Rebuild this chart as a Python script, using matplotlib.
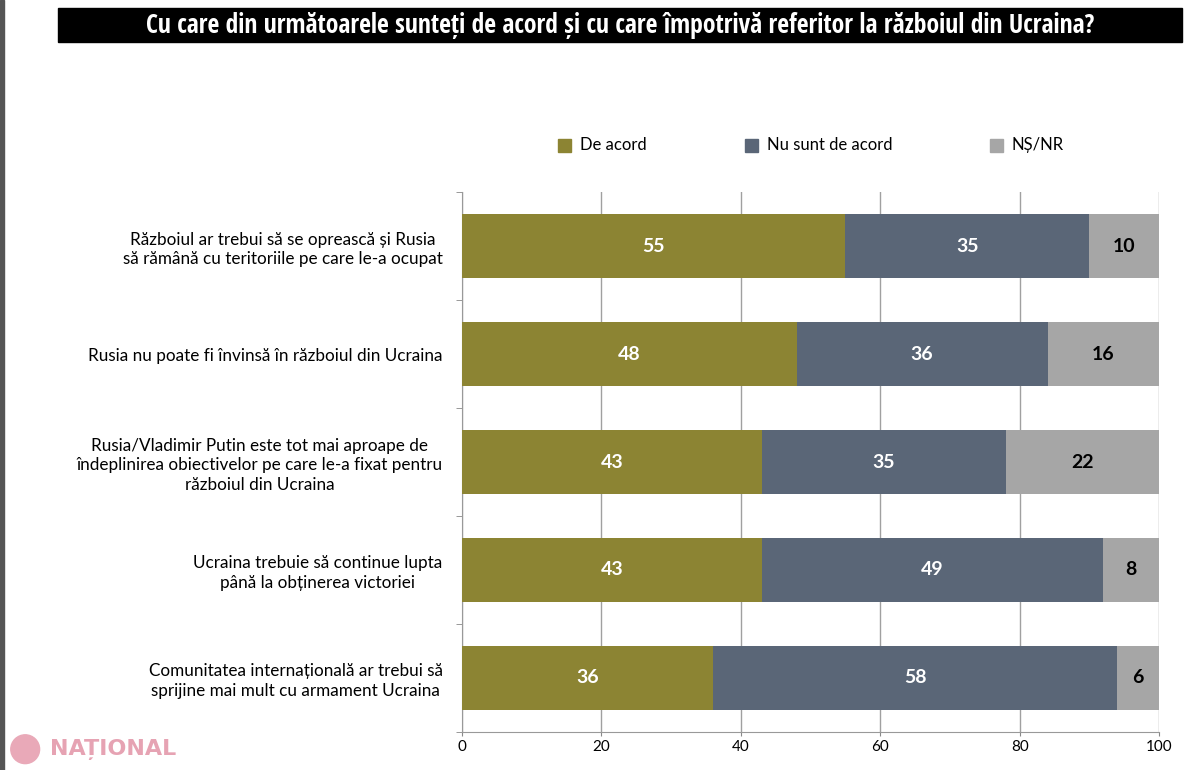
import numpy as np
import matplotlib.pyplot as plt
from matplotlib.patches import Rectangle, Ellipse

categories = [
    "Războiul ar trebui să se oprească și Rusia\nsă rămână cu teritoriile pe care le-a ocupat",
    "Rusia nu poate fi învinsă în războiul din Ucraina",
    "Rusia/Vladimir Putin este tot mai aproape de\nîndeplinirea obiectivelor pe care le-a fixat pentru\nrăzboiul din Ucraina",
    "Ucraina trebuie să continue lupta\npână la obținerea victoriei",
    "Comunitatea internațională ar trebui să\nsprijine mai mult cu armament Ucraina",
]
de_acord = [55, 48, 43, 43, 36]
nu_acord = [35, 36, 35, 49, 58]
ns_nr = [10, 16, 22, 8, 6]
series_names = ["De acord", "Nu sunt de acord", "NȘ/NR"]
colors = ["#8C8433", "#5A6677", "#A6A6A6"]
value_colors = ["white", "white", "black"]
xticks = [0, 20, 40, 60, 80, 100]

title = "Cu care din următoarele sunteți de acord și cu care împotrivă referitor la războiul din Ucraina?"

plt.rcParams['font.family'] = ['Lato', 'DejaVu Sans']

fig = plt.figure(figsize=(12, 7.7), dpi=100)
ax = fig.add_axes([0.385, 0.0494, 0.581, 0.7012])

y = np.arange(len(categories))
left = np.zeros(len(categories))
for vals, name, c, tc in zip([de_acord, nu_acord, ns_nr], series_names, colors, value_colors):
    vals = np.array(vals)
    bars = ax.barh(y, vals, left=left, height=0.59, color=c, label=name, zorder=3)
    for b, v in zip(bars, vals):
        ax.text(b.get_x() + b.get_width() / 2, b.get_y() + b.get_height() / 2, str(v),
                ha='center', va='center', color=tc, fontsize=14, fontweight='bold', zorder=4)
    left += vals

ax.set_xlim(0, 100)
ax.set_ylim(len(categories) - 0.5, -0.5)
ax.set_xticks(xticks)
ax.tick_params(axis='x', labelsize=11, colors='#888888', labelcolor='black', length=3, pad=3)
ax.set_yticks(y)
ax.set_yticklabels(categories, fontsize=12.3, multialignment='center', linespacing=1.3)
ax.tick_params(axis='y', length=0, pad=14)
ax.set_yticks(np.arange(-0.5, len(categories)), minor=True)
ax.tick_params(axis='y', which='minor', length=4, color='#888888')
ax.grid(axis='x', color='#A0A0A0', linewidth=1, zorder=0)
for s in ['top', 'right']:
    ax.spines[s].set_visible(False)
for s in ['left', 'bottom']:
    ax.spines[s].set_color('#999999')

# legend
lx = [0.465, 0.621, 0.825]
for x0, name, c in zip(lx, series_names, colors):
    fig.patches.append(Rectangle((x0, 0.802), 0.011, 0.018, transform=fig.transFigure, color=c))
    fig.text(x0 + 0.018, 0.8115, name, fontsize=12, va='center', ha='left')

# title bar
fig.patches.append(Rectangle((0.048, 0.945), 0.937, 0.045, transform=fig.transFigure, color='black'))
fig.text(0.5165, 0.967, title, color='white', fontsize=18.5, fontweight='bold', ha='center', va='center',
         family=['Open Sans Condensed', 'Roboto Condensed', 'Liberation Sans Narrow', 'Roboto', 'DejaVu Sans'])

# left border strip
fig.patches.append(Rectangle((0, 0), 0.003, 1, transform=fig.transFigure, color='#555555'))

# logo
fig.patches.append(Ellipse((0.021, 0.027), 0.024, 0.024 * 1200 / 770, transform=fig.transFigure, color='#E9A9B8'))
fig.text(0.042, 0.027, "NAȚIONAL", color='#E6A3B3', fontsize=16, fontweight='bold', va='center', ha='left',
         family=['DejaVu Sans'])

fig.savefig('out.png', dpi=100)
